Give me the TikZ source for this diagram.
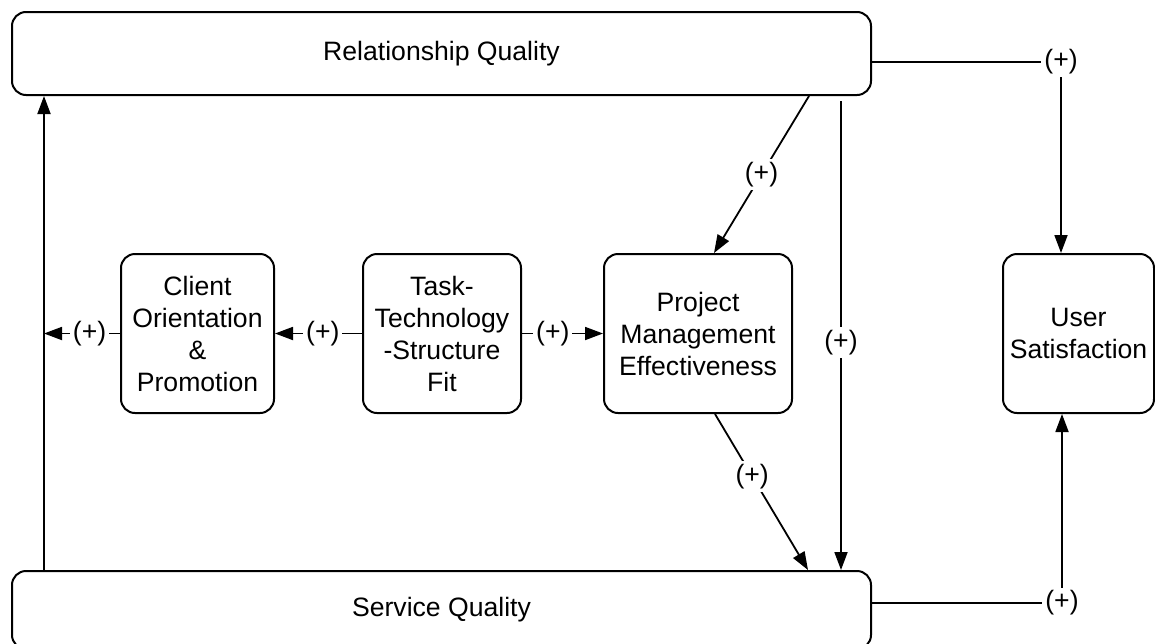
\documentclass[tikz,border=0pt]{standalone}
\usepackage{fontspec}
\setmainfont{Liberation Sans}
\usetikzlibrary{arrows.meta}
\tikzset{
  box/.style={draw, line width=1pt, rounded corners=7pt, inner sep=0pt, align=center,
    font=\fontsize{13.3}{16}\selectfont},
  arr/.style={line width=0.9pt, -{Triangle[length=9pt,width=6.5pt]}},
  lbl/.style={fill=white, inner sep=1.5pt, font=\fontsize{13.3}{16}\selectfont}
}
\begin{document}
\begin{tikzpicture}[x=0.5pt,y=-0.5pt]
\useasboundingbox (0,0) rectangle (1155,643);
% boxes
\node[box, minimum width=429.5pt, minimum height=41.5pt] (rq) at (441.5,53.5) {Relationship Quality};
\node[box, minimum width=429.5pt, minimum height=39pt] (sq) at (441.5,610) {Service Quality};
\node[box, minimum width=76.5pt, minimum height=79.5pt] (co) at (197.5,333.5) {Client\\Orientation\\\&\\Promotion};
\node[box, minimum width=79pt, minimum height=79.5pt] (tt) at (442,333.5) {Task-\\Technology\\-Structure\\Fit};
\node[box, minimum width=94pt, minimum height=79.5pt] (pme) at (698,333.5) {Project\\Management\\Effectiveness};
\node[box, minimum width=75.5pt, minimum height=79.5pt] (us) at (1078.5,333.5) {User\\Satisfaction};
% helper coordinates
\coordinate (lx) at (44,0);
\coordinate (a1) at (809,0);
\coordinate (a2) at (714,0);
\coordinate (vx) at (841,0);
\coordinate (b1) at (715,0);
\coordinate (b2) at (808,0);
\coordinate (ry) at (0,62);
\coordinate (ux) at (1061,0);
\coordinate (sy) at (0,603);
\coordinate (ux2) at (1062,0);
% connectors
\draw[arr] (sq.north -| lx) -- (rq.south -| lx);
\draw[arr] (co.west) -- node[lbl,pos=0.4]{(+)} (co.west -| lx);
\draw[arr] (tt.west) -- node[lbl,pos=0.45]{(+)} (co.east);
\draw[arr] (tt.east) -- node[lbl,pos=0.38]{(+)} (pme.west);
\draw[arr] (rq.south -| a1) -- node[lbl]{(+)} (pme.north -| a2);
\draw[arr, shorten <=2.5pt] (rq.south -| vx) -- node[lbl,pos=0.52]{(+)} (sq.north -| vx);
\draw[arr] (pme.south -| b1) -- node[lbl,pos=0.4]{(+)} (sq.north -| b2);
\draw[arr] (rq.east |- ry) -| node[lbl,pos=0.5]{(+)} (us.north -| ux);
\draw[arr] (sq.east |- sy) -| node[lbl,pos=0.5]{(+)} (us.south -| ux2);
\end{tikzpicture}
\end{document}
